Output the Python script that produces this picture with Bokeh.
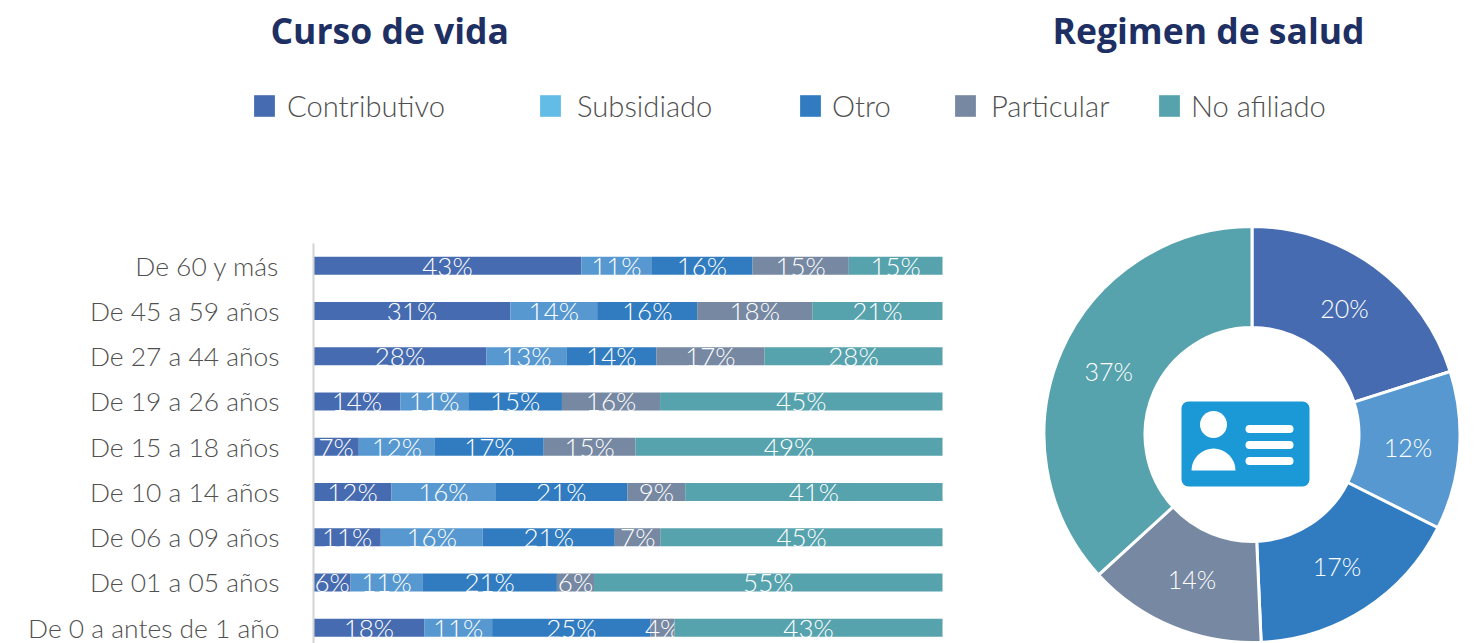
import math
from bokeh.plotting import figure, ColumnDataSource
from bokeh.models import Range1d, FixedTicker, Legend, LegendItem, Label
from bokeh.layouts import column, row
from bokeh.core.properties import value
from bokeh.embed import file_html
from bokeh.resources import INLINE

# ---- data ----
ages = ["De 0 a antes de 1 año", "De 01 a 05 años", "De 06 a 09 años", "De 10 a 14 años",
        "De 15 a 18 años", "De 19 a 26 años", "De 27 a 44 años", "De 45 a 59 años", "De 60 y más"]
contributivo = [17.6, 5.9, 10.7, 12.4, 7.2, 13.8, 27.5, 31.3, 42.6]
subsidiado = [10.8, 11.4, 16.2, 16.5, 12.1, 10.8, 12.7, 13.8, 11.1]
otro = [25.2, 21.4, 21.0, 21.0, 17.3, 14.9, 14.3, 15.9, 16.1]
particular = [3.8, 5.9, 7.3, 9.2, 14.6, 15.6, 17.2, 18.3, 15.3]
no_afiliado = [42.6, 55.4, 44.8, 40.9, 48.8, 44.9, 28.3, 20.7, 14.9]
series_names = ["Contributivo", "Subsidiado", "Otro", "Particular", "No afiliado"]
regimen = [20.1, 12.3, 16.9, 13.9, 36.8]

bar_colors = ["#466BB0", "#5698CF", "#317CC0", "#7688A2", "#56A2AD"]
legend_colors = ["#466BB0", "#62BCE6", "#317CC0", "#7688A2", "#56A2AD"]
FONT = "Lato Light"
GREY = "#505050"

W, H = 1478, 643
HEAD = 170
LEFT = 313
PCT_PX = 6.29
ROW_PX = 45.25
ROW0_PY = 627.2

# header: titles and legend
h = figure(width=W, height=HEAD, output_backend="svg", toolbar_location=None,
           x_range=Range1d(0, W), y_range=Range1d(HEAD, 0),
           min_border=0, outline_line_color=None)
h.axis.visible = False
h.grid.visible = False
for txt, x in (("Curso de vida", 270), ("Regimen de salud", 1052)):
    h.add_layout(Label(x=x, y=29, text=txt, text_font="Open Sans", text_font_style="bold",
                       text_font_size="35.5px", text_color="#1E2F63", text_baseline="middle"))
legend_x = [253, 539, 799, 954, 1158]
legend_gap = [10, 14, 9, 13, 9]
for name, col, x, gap in zip(series_names, legend_colors, legend_x, legend_gap):
    r = h.rect(x=[float("nan")], y=[float("nan")], width=[1], height=[1],
               fill_color=col, line_color=None)
    h.add_layout(Legend(items=[LegendItem(label=name, renderers=[r])],
                        location=(x - 2, HEAD - 123), padding=0, margin=0, spacing=0,
                        glyph_width=26, glyph_height=27, label_standoff=gap,
                        label_text_font=FONT, label_text_font_size="29.2px",
                        label_text_color=GREY, border_line_color=None,
                        background_fill_alpha=0))

# main figure: bars and donut
p = figure(width=W, height=H - HEAD, output_backend="svg", toolbar_location=None,
           x_range=Range1d(0, (W - LEFT) / PCT_PX),
           y_range=Range1d((ROW0_PY - H) / ROW_PX, (ROW0_PY - HEAD) / ROW_PX),
           min_border_left=LEFT, min_border_right=0, min_border_top=0, min_border_bottom=0,
           outline_line_color=None, background_fill_color="white")
p.xaxis.visible = False
p.grid.visible = False
p.extra_x_ranges["px"] = Range1d(LEFT, W)
p.extra_y_ranges["px"] = Range1d(H, HEAD)

ax = p.yaxis[0]
ax.ticker = FixedTicker(ticks=list(range(len(ages))))
ax.major_label_overrides = {i: a for i, a in enumerate(ages)}
ax.bounds = ((ROW0_PY - H) / ROW_PX, (ROW0_PY - 243) / ROW_PX)
ax.major_tick_line_color = None
ax.minor_tick_line_color = None
ax.axis_line_color = "#D4D4D4"
ax.axis_line_width = 2
ax.major_label_standoff = 28
ax.major_label_text_font = FONT
ax.major_label_text_font_size = "26.4px"
ax.major_label_text_color = GREY

columns = [contributivo, subsidiado, otro, particular, no_afiliado]
left = [0.0] * len(ages)
for name, vals, col in zip(series_names, columns, bar_colors):
    right = [a + b for a, b in zip(left, vals)]
    src = ColumnDataSource(dict(
        y=list(range(len(ages))), left=left, right=right,
        mid=[(a + b) / 2 for a, b in zip(left, right)],
        lab=[f"{round(v)}%" for v in vals]))
    p.hbar(y="y", left="left", right="right", height=18 / ROW_PX, source=src,
           fill_color=col, line_color=None)
    p.text(x="mid", y="y", text="lab", source=src, text_color="white",
           text_font=value(FONT), text_font_size="26px",
           text_align="center", text_baseline="middle")
    left = right

CX, CY = 1251.5, 434
R_OUT, R_IN = 208, 107
total = sum(regimen)
start = math.pi / 2
sa, ea, lx, ly = [], [], [], []
for v in regimen:
    end = start - v / total * 2 * math.pi
    sa.append(start); ea.append(end)
    m = (start + end) / 2
    rm = (R_OUT + R_IN) / 2 - 1
    lx.append(CX + rm * math.cos(m)); ly.append(CY - rm * math.sin(m))
    start = end
dsrc = ColumnDataSource(dict(x=[CX] * 5, y=[CY] * 5, sa=sa, ea=ea, color=bar_colors,
                             lx=lx, ly=ly, lab=[f"{round(v)}%" for v in regimen]))
p.annular_wedge(x="x", y="y", inner_radius=R_IN, outer_radius=R_OUT,
                inner_radius_units="screen", outer_radius_units="screen",
                start_angle="sa", end_angle="ea", direction="clock", source=dsrc,
                fill_color="color", line_color="white", line_width=3,
                x_range_name="px", y_range_name="px")
p.text(x="lx", y="ly", text="lab", source=dsrc, text_color="white",
       text_font=value(FONT), text_font_size="25px", text_align="center", text_baseline="middle",
       x_range_name="px", y_range_name="px")

ICON = "#1B98D6"
kw = dict(x_range_name="px", y_range_name="px", line_color=None)
p.quad(left=[1181], right=[1309], top=[401], bottom=[486], fill_color=ICON, border_radius=7, **kw)
p.circle(x=[1213], y=[424], radius=13.5, radius_units="screen", fill_color="white", **kw)
p.wedge(x=[1213], y=[470], radius=22, radius_units="screen", start_angle=0, end_angle=math.pi,
        fill_color="white", **kw)
for yc in (428.5, 444.5, 460.5):
    p.quad(left=[1245], right=[1293], top=[yc - 4], bottom=[yc + 4], fill_color="white",
           border_radius=4, **kw)

page = column(row(h), p, spacing=0)
open("out.html", "w").write(file_html(page, INLINE))
